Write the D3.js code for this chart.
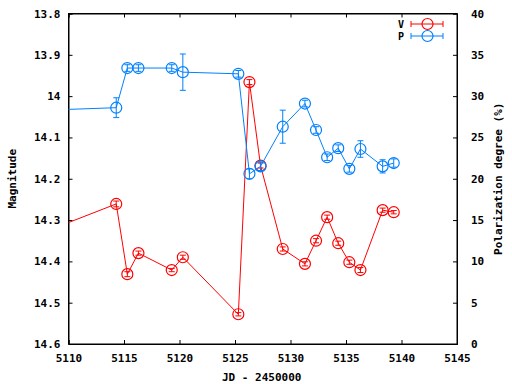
<!DOCTYPE html>
<html>
<head>
<meta charset="utf-8">
<script src="https://cdn.jsdelivr.net/npm/d3@7"></script>
<style>
body{margin:0;background:#fff;}
text{font-family:"DejaVu Sans Mono",monospace;font-weight:bold;font-size:11px;fill:#000;}
</style>
</head>
<body>
<div id="chart"></div>
<script>
// V band magnitude (left axis)
var vDays = [5108, 5114.3, 5115.3, 5116.3, 5119.3, 5120.3, 5125.3, 5126.3, 5127.3, 5129.3, 5131.3, 5132.3, 5133.3, 5134.3, 5135.3, 5136.3, 5138.3, 5139.3];
var vMag  = [14.327, 14.261, 14.431, 14.380, 14.421, 14.390, 14.528, 13.966, 14.168, 14.370, 14.406, 14.350, 14.293, 14.356, 14.402, 14.421, 14.276, 14.281];
var vErr  = [0.005, 0.007, 0.006, 0.005, 0.004, 0.005, 0.004, 0.006, 0.006, 0.005, 0.005, 0.005, 0.005, 0.005, 0.005, 0.006, 0.005, 0.004];

// polarization degree (right axis)
var pDays = [5108, 5114.3, 5115.3, 5116.3, 5119.3, 5120.3, 5125.3, 5126.3, 5127.3, 5129.3, 5131.3, 5132.3, 5133.3, 5134.3, 5135.3, 5136.3, 5138.3, 5139.3];
var pDeg  = [28.3, 28.6, 33.4, 33.4, 33.4, 32.9, 32.7, 20.6, 21.5, 26.3, 29.1, 25.9, 22.6, 23.7, 21.2, 23.6, 21.5, 21.9];
var pErr  = [0.3, 1.2, 0.4, 0.4, 0.4, 2.2, 0.4, 0.6, 0.5, 2.0, 0.4, 0.4, 0.4, 0.4, 0.4, 1.0, 0.8, 0.5];

var xTicks = [5110, 5115, 5120, 5125, 5130, 5135, 5140, 5145];
var yTicks = [13.8, 13.9, 14.0, 14.1, 14.2, 14.3, 14.4, 14.5, 14.6];
var y2Ticks = [0, 5, 10, 15, 20, 25, 30, 35, 40];

var W = 512, H = 384;
var L = 68.5, R = 457, T = 13.5, B = 344;

var svg = d3.select("#chart").append("svg")
  .attr("width", W).attr("height", H);

var x = d3.scaleLinear().domain([5110, 5145]).range([L, R]);
var y = d3.scaleLinear().domain([13.8, 14.6]).range([T, B]);
var y2 = d3.scaleLinear().domain([0, 40]).range([B, T]);

svg.append("clipPath").attr("id", "clip")
  .append("rect").attr("x", L).attr("y", T).attr("width", R - L).attr("height", B - T);

// axes
svg.append("g").attr("transform", "translate(0," + B + ")")
  .call(d3.axisBottom(x).tickValues(xTicks).tickSize(-4).tickPadding(10).tickFormat(d3.format("d")));
svg.append("g").attr("transform", "translate(0," + T + ")")
  .call(d3.axisTop(x).tickValues(xTicks).tickSize(-4).tickFormat(""));
svg.append("g").attr("transform", "translate(" + L + ",0)")
  .call(d3.axisLeft(y).tickValues(yTicks).tickSize(-4).tickPadding(8).tickFormat(function(d){ return String(+d.toFixed(1)); }));
svg.append("g").attr("transform", "translate(" + R + ",0)")
  .call(d3.axisRight(y2).tickValues(y2Ticks).tickSize(-4).tickPadding(14).tickFormat(d3.format("d")));

svg.selectAll(".domain").attr("stroke", "#000").attr("stroke-width", 1);
svg.selectAll(".tick line").attr("stroke", "#000");
svg.selectAll(".tick text").attr("font-family", null).attr("font-size", null).attr("fill", null);

// border
svg.append("rect").attr("x", L).attr("y", T).attr("width", R - L).attr("height", B - T)
  .attr("fill", "none").attr("stroke", "#000");

// axis titles
svg.append("text").attr("transform", "translate(16," + ((T + B) / 2) + ") rotate(-90)")
  .attr("text-anchor", "middle").text("Magnitude");
svg.append("text").attr("transform", "translate(502," + ((T + B) / 2) + ") rotate(-90)")
  .attr("text-anchor", "middle").text("Polarization degree (%)");
svg.append("text").attr("x", (L + R) / 2 - 1).attr("y", 381)
  .attr("text-anchor", "middle").text("JD - 2450000");

var plot = svg.append("g").attr("clip-path", "url(#clip)");

function drawSeries(days, vals, errs, sc, color) {
  var pts = days.map(function(d, i){ return {x: d, v: vals[i], e: errs[i]}; });
  var g = plot.append("g");
  g.append("path").datum(pts)
    .attr("fill", "none").attr("stroke", color).attr("stroke-width", 1)
    .attr("d", d3.line().x(function(d){ return x(d.x); }).y(function(d){ return sc(d.v); }));
  var eb = g.selectAll(".eb").data(pts).enter().append("g");
  eb.append("line")
    .attr("x1", function(d){ return x(d.x); }).attr("x2", function(d){ return x(d.x); })
    .attr("y1", function(d){ return sc(d.v - d.e); }).attr("y2", function(d){ return sc(d.v + d.e); })
    .attr("stroke", color);
  [-1, 1].forEach(function(s){
    eb.append("line")
      .attr("x1", function(d){ return x(d.x) - 3; }).attr("x2", function(d){ return x(d.x) + 3; })
      .attr("y1", function(d){ return sc(d.v + s * d.e); }).attr("y2", function(d){ return sc(d.v + s * d.e); })
      .attr("stroke", color);
  });
  g.selectAll(".pt").data(pts).enter().append("circle")
    .attr("cx", function(d){ return x(d.x); }).attr("cy", function(d){ return sc(d.v); })
    .attr("r", 5.5).attr("fill", "none").attr("stroke", color).attr("stroke-width", 1.2);
}

drawSeries(vDays, vMag, vErr, y, "#ff0000");
drawSeries(pDays, pDeg, pErr, y2, "#0080ff");

// key
var key = [{name: "V", color: "#ff0000"}, {name: "P", color: "#0080ff"}];
key.forEach(function(k, i){
  var ky = 24 + i * 12;
  svg.append("text").attr("x", 404).attr("y", ky + 3.5).attr("text-anchor", "end")
    .style("font-size", "10px").text(k.name);
  svg.append("line").attr("x1", 411).attr("x2", 443).attr("y1", ky).attr("y2", ky).attr("stroke", k.color);
  svg.append("line").attr("x1", 411).attr("x2", 411).attr("y1", ky - 3).attr("y2", ky + 3).attr("stroke", k.color);
  svg.append("line").attr("x1", 443).attr("x2", 443).attr("y1", ky - 3).attr("y2", ky + 3).attr("stroke", k.color);
  svg.append("circle").attr("cx", 427.5).attr("cy", ky).attr("r", 5.5)
    .attr("fill", "none").attr("stroke", k.color).attr("stroke-width", 1.2);
});
</script>
</body>
</html>
